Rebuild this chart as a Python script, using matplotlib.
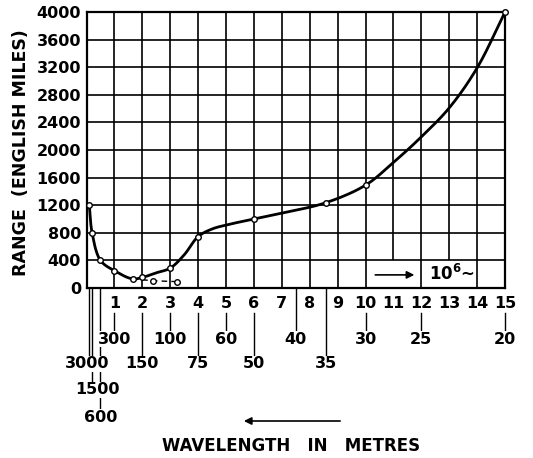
import numpy as np
import matplotlib
matplotlib.use('Agg')
import matplotlib.pyplot as plt
import matplotlib.transforms as mtransforms

plt.rcParams['font.family'] = ['DejaVu Sans']
plt.rcParams['mathtext.default'] = 'bf'

# frequency axis (10^6 cycles) and range axis (miles)
freq_ticks = list(range(1, 16))
range_ticks = list(range(0, 4001, 400))

# measured points (open circles) on the main curve
marker_freq = [0.1, 0.2, 0.5, 1, 2, 3, 4, 6, 8.57, 10, 15]
marker_range = [1200, 800, 400, 250, 153, 288, 745, 1000, 1235, 1490, 4000]

# points
curve_freq = [0.1, 0.2, 0.5, 1, 1.65, 2, 2.5, 3, 3.5, 4, 4.5, 5, 6, 7, 8.57, 10, 11, 12, 13, 14, 15]
curve_range = [1200, 800, 400, 250, 132, 153, 220, 288, 480, 745, 855, 912, 1000, 1085, 1235, 1490, 1820, 2190, 2610, 3190, 4000]

# dashed branch
dash_freq = [1.65, 2.38, 3.25]
dash_range = [132, 105, 92]

# wavelength scale in metres, and which label row each sits on
wavelengths = [3000, 1500, 600, 300, 150, 100, 75, 60, 50, 40, 35, 30, 25, 20]
wl_rows = [1, 2, 3, 0, 1, 0, 1, 0, 1, 0, 1, 0, 0, 0]


def smooth(xs, ys, n=30, alpha=0.5):
    # centripetal catmull-rom through the read points (in pixel-ish units)
    sx, sy = 27.9, 27.6 / 400
    P = np.column_stack([np.array(xs) * sx, np.array(ys) * sy])
    P = np.vstack([2 * P[0] - P[1], P, 2 * P[-1] - P[-2]])
    pts = []
    for i in range(len(P) - 3):
        p0, p1, p2, p3 = P[i:i + 4]
        t0 = 0.0
        t1 = t0 + np.linalg.norm(p1 - p0) ** alpha
        t2 = t1 + np.linalg.norm(p2 - p1) ** alpha
        t3 = t2 + np.linalg.norm(p3 - p2) ** alpha
        t = np.linspace(t1, t2, n)[:, None]
        A1 = (t1 - t) / (t1 - t0) * p0 + (t - t0) / (t1 - t0) * p1
        A2 = (t2 - t) / (t2 - t1) * p1 + (t - t1) / (t2 - t1) * p2
        A3 = (t3 - t) / (t3 - t2) * p2 + (t - t2) / (t3 - t2) * p3
        B1 = (t2 - t) / (t2 - t0) * A1 + (t - t0) / (t2 - t0) * A2
        B2 = (t3 - t) / (t3 - t1) * A2 + (t - t1) / (t3 - t1) * A3
        C = (t2 - t) / (t2 - t1) * B1 + (t - t1) / (t2 - t1) * B2
        pts.append(C)
    pts = np.vstack(pts)
    return pts[:, 0] / sx, pts[:, 1] / sy


def ypix(p):
    return 1 - p / 458.0


fig = plt.figure(figsize=(5.33, 4.58), dpi=100)
ax = fig.add_axes([0.1623, 0.3712, 0.7852, 0.6026])
ax.set_xlim(0, 15)
ax.set_ylim(0, 4000)

# grid, drawn by hand so the bottom row can stay open under the 10^6 note
ax.hlines(range_ticks[1:-1], 0, 15, color='black', lw=1.2, zorder=1)
for f in freq_ticks[:-1]:
    ax.vlines(f, 400 if f in (11, 13) else 0, 4000, color='black', lw=1.2, zorder=1)
for s in ax.spines.values():
    s.set_linewidth(1.6)

ax.set_xticks([])
ax.set_yticks(range_ticks)
ax.set_yticklabels([str(v) for v in range_ticks], fontsize=11.5, fontweight='bold')
ax.tick_params(axis='y', length=0, pad=4)

cx, cy = smooth(curve_freq, curve_range)
ax.plot(cx, cy, color='black', lw=2, zorder=3, clip_on=False)
ax.plot(dash_freq, dash_range, color='black', lw=1, dashes=(4, 3), zorder=3,
        marker='o', ms=4, mfc='white', mec='black', mew=1)
ax.plot(marker_freq, marker_range, 'o', ms=4, mfc='white', mec='black', mew=1,
        zorder=5, clip_on=False)

# frequency note inside the bottom row
ax.annotate('', xy=(11.85, 190), xytext=(10.25, 190),
            arrowprops=dict(arrowstyle='-|>', color='black', lw=1.2, mutation_scale=11))
ax.text(13.1, 200, '10$^{6}$\u223c', ha='center', va='center', fontsize=12,
        fontweight='bold', zorder=4)

trans = mtransforms.blended_transform_factory(ax.transData, fig.transFigure)

# frequency labels under the axis
for f in freq_ticks:
    ax.text(f, ypix(304), str(f), transform=trans, ha='center', va='center',
            fontsize=11.5, fontweight='bold', clip_on=False)

# wavelength labels with their connector lines
row_y = [339, 364, 390, 417]
label_shift = {3000: -0.07, 1500: 0.2}
for wl, r in zip(wavelengths, wl_rows):
    f = 300.0 / wl
    top = 313 if abs(f - round(f)) < 1e-6 else 288
    bot = row_y[r] - 8
    ax.plot([f, f], [ypix(top), ypix(bot)], transform=trans, color='black', lw=1,
            clip_on=False, zorder=2)
    ax.text(f + label_shift.get(wl, 0), ypix(row_y[r]), str(wl), transform=trans,
            ha='center', va='center', fontsize=11.5, fontweight='bold', clip_on=False,
            zorder=4, bbox=dict(facecolor='white', edgecolor='none', pad=0.3))

ax.annotate('', xy=(5.54, ypix(421)), xytext=(9.19, ypix(421)), xycoords=trans,
            textcoords=trans,
            arrowprops=dict(arrowstyle='-|>', color='black', lw=1.2, mutation_scale=11))

fig.text(291 / 533, ypix(446), 'WAVELENGTH   IN   METRES', ha='center', va='center',
         fontsize=12, fontweight='bold')
fig.text(21.5 / 533, ypix(153), 'RANGE  (ENGLISH MILES)', rotation=90, ha='center',
         va='center', fontsize=12.5, fontweight='bold')

fig.savefig('out.png', dpi=100)
